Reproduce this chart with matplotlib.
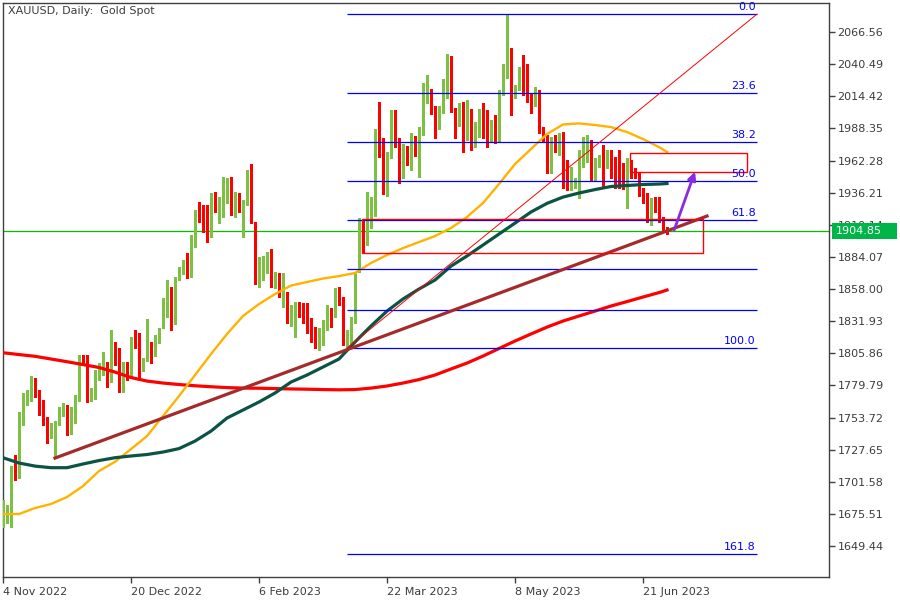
import matplotlib
matplotlib.use("Agg")
import matplotlib.pyplot as plt
from matplotlib.patches import Rectangle
from matplotlib.transforms import blended_transform_factory
import numpy as np

# ---------------- data ----------------
opens = [1670.5,1674.6,1674.6,1711.9,1706.2,1755.2,1765.5,1770.6,1779.3,1773.6,
         1761.4,1750.3,1738.1,1739.5,1749.2,1755.7,1754.9,1741.4,1749.5,1768.5,
         1803.0,1797.9,1767.9,1769.5,1785.8,1789.8,1797.9,1784.1,1811.2,1807.9,
         1776.0,1792.2,1787.4,1818.5,1814.4,1792.2,1799.8,1814.4,1804.4,1814.4,
         1826.6,1836.9,1854.5,1830.1,1866.7,1871.2,1876.6,1875.0,1895.1,1920.7,
         1914.5,1908.0,1904.5,1931.6,1926.1,1930.8,1936.1,1946.4,1928.0,1934.3,
         1922.1,1928.0,1950.5,1912.6,1863.9,1866.7,1872.0,1875.3,1861.2,1864.7,
         1853.1,1855.0,1835.5,1836.1,1842.3,1840.9,1834.2,1825.5,1820.6,1809.9,
         1816.6,1827.4,1837.7,1836.9,1858.5,1846.4,1813.9,1813.9,1830.6,1884.8,
         1912.6,1903.7,1918.8,1918.0,1985.6,1978.9,1938.9,1968.1,1992.9,1978.9,
         1955.9,1973.5,1962.7,1980.3,1972.2,1984.3,2018.9,2019.5,2001.0,1990.3,
         2002.4,2014.0,2039.8,1998.4,1994.3,2004.6,1992.4,2003.2,1980.8,1987.8,
         1996.5,1989.7,1987.0,1991.1,1980.8,2016.0,2041.1,2049.2,2015.4,2020.8,
         2033.0,2028.4,2014.8,2007.3,2016.0,1988.4,1981.6,1957.2,1977.5,1970.8,
         1974.8,1957.2,1939.7,1941.6,1944.2,1958.6,1962.7,1977.5,1947.8,1960.0,
         1968.1,1960.0,1964.9,1961.3,1958.6,1943.8,1943.8,1958.6,1953.2,1950.5,
         1935.6,1930.2,1913.4,1924.8,1923.5,1914.0,1907.5]
highs = [1686.8,1682.7,1714.3,1723.3,1758.4,1773.6,1776.0,1787.4,1785.8,1776.0,
         1767.9,1754.1,1749.2,1750.9,1762.2,1765.5,1763.8,1762.2,1772.0,1804.4,
         1804.4,1804.4,1777.6,1792.2,1797.9,1807.1,1799.0,1824.7,1815.2,1810.1,
         1799.0,1799.0,1819.3,1824.7,1822.3,1802.0,1833.6,1815.2,1820.6,1826.1,
         1850.9,1865.3,1859.8,1867.7,1875.6,1881.5,1887.2,1901.8,1922.1,1928.8,
         1926.1,1926.1,1935.6,1936.9,1932.9,1949.1,1947.8,1949.1,1936.9,1935.6,
         1930.2,1954.5,1959.4,1912.6,1884.2,1884.8,1888.2,1890.2,1872.0,1870.7,
         1870.7,1855.8,1845.0,1847.7,1847.7,1846.4,1846.4,1834.2,1827.4,1826.1,
         1832.8,1845.0,1842.3,1858.5,1859.4,1851.7,1824.7,1835.5,1870.7,1915.3,
         1914.0,1936.9,1932.9,1987.8,2010.0,1980.3,1969.4,2003.2,2003.2,1980.3,
         1975.6,1974.0,1984.3,1982.1,1989.7,2024.9,2031.6,2020.0,2006.5,2006.5,
         2028.1,2048.4,2047.3,2004.6,2008.7,2010.0,2011.4,2004.0,1993.7,2004.0,
         2008.7,2003.2,1995.1,1999.2,2019.5,2040.3,2080.9,2053.3,2023.5,2038.4,
         2047.9,2040.3,2016.8,2022.1,2019.5,1989.7,1982.9,1981.6,1982.9,1984.6,
         1985.6,1962.7,1957.2,1948.1,1970.8,1981.6,1982.9,1978.9,1964.0,1966.7,
         1974.8,1970.8,1970.8,1965.3,1970.8,1960.0,1964.0,1962.7,1956.2,1952.9,
         1939.7,1935.6,1931.6,1932.9,1932.9,1916.6,1908.3]
lows = [1664.8,1668.1,1664.8,1703.0,1704.6,1747.6,1763.8,1767.3,1770.6,1755.7,
        1747.6,1733.2,1737.1,1720.8,1747.6,1754.9,1739.5,1740.3,1749.2,1767.1,
        1797.1,1766.5,1767.1,1768.7,1784.1,1788.2,1778.7,1782.5,1796.3,1774.6,
        1774.6,1784.1,1786.6,1809.9,1784.1,1791.4,1799.6,1797.7,1803.6,1813.9,
        1826.1,1835.5,1824.7,1829.6,1865.3,1870.1,1867.1,1868.0,1892.3,1912.6,
        1904.5,1896.4,1900.4,1920.7,1911.3,1916.6,1927.5,1918.0,1916.6,1920.7,
        1900.4,1926.1,1911.3,1862.0,1859.8,1865.3,1870.7,1859.8,1858.5,1851.7,
        1843.6,1830.1,1828.0,1819.3,1835.5,1830.1,1822.0,1815.2,1809.9,1808.5,
        1812.5,1824.7,1827.4,1835.5,1845.0,1812.5,1809.9,1812.5,1830.1,1872.0,
        1886.9,1893.7,1907.2,1917.5,1965.3,1935.1,1933.7,1964.0,1973.5,1943.8,
        1947.8,1958.6,1954.5,1965.9,1949.1,1982.9,2008.7,1999.7,1980.3,1987.6,
        2001.0,2012.7,2001.9,1980.8,1990.5,1968.9,1978.9,1970.8,1973.5,1981.6,
        1980.8,1973.5,1977.5,1976.2,1977.0,2015.4,2029.4,1999.2,2013.2,2019.5,
        2015.4,2010.0,2000.6,2006.7,1984.3,1977.5,1951.9,1951.9,1969.2,1966.7,
        1939.7,1938.3,1938.3,1939.9,1931.6,1957.2,1961.3,1946.4,1946.4,1957.2,
        1939.7,1955.9,1947.8,1939.7,1939.7,1938.9,1923.5,1948.1,1948.1,1933.4,
        1927.5,1912.6,1909.9,1920.7,1912.6,1905.9,1902.6]
closes = [1682.7,1680.3,1713.5,1707.0,1755.7,1771.1,1773.6,1779.3,1773.8,1761.4,
          1750.3,1738.7,1741.1,1750.3,1755.7,1758.4,1741.1,1759.8,1769.5,1803.6,
          1799.0,1767.9,1772.0,1786.8,1790.9,1797.1,1781.7,1811.2,1807.1,1776.8,
          1793.9,1786.8,1819.3,1813.9,1793.6,1799.0,1814.4,1804.4,1815.2,1824.7,
          1840.1,1854.5,1832.8,1866.9,1872.0,1877.5,1875.6,1897.7,1920.7,1914.0,
          1908.0,1903.7,1931.6,1926.1,1931.6,1936.9,1946.4,1928.8,1928.8,1922.7,
          1928.8,1950.5,1911.8,1865.3,1868.0,1872.6,1876.1,1861.2,1866.1,1853.1,
          1855.8,1836.1,1837.7,1843.1,1840.4,1834.2,1824.7,1822.5,1811.2,1818.0,
          1828.0,1836.9,1835.5,1855.8,1847.7,1813.9,1814.7,1831.4,1868.0,1913.4,
          1903.7,1918.0,1919.9,1987.0,1978.9,1940.5,1968.1,1992.9,1977.5,1955.9,
          1974.0,1964.0,1979.5,1969.4,1984.3,2020.0,2020.0,2000.6,1990.3,2003.2,
          2014.6,2040.3,2004.6,1994.3,2004.6,1994.3,2005.1,1982.4,1988.4,1997.0,
          1987.8,1987.0,1989.7,1980.8,2016.8,2038.9,2050.5,2015.4,2020.8,2034.3,
          2029.0,2014.0,2010.0,2015.4,1988.4,1980.8,1957.2,1977.5,1970.8,1974.8,
          1957.2,1939.7,1946.4,1945.0,1961.3,1966.7,1977.5,1947.8,1962.7,1964.0,
          1940.5,1964.9,1960.0,1957.2,1943.8,1939.7,1958.6,1951.9,1949.1,1935.6,
          1930.2,1913.4,1922.1,1922.1,1913.4,1907.2,1904.85]

# moving averages read at sampled bars (every 4 bars)
ma_bars = [0, 4, 8, 12, 16, 20, 24, 28, 32, 36, 40, 44, 48, 52, 56, 60, 64, 68,
           72, 76, 80, 84, 88, 92, 96, 100, 104, 108, 112, 116, 120, 124, 128,
           132, 136, 140, 144, 148, 152, 156, 160, 164, 166]
ma_red = [1806.3, 1804.8, 1803.4, 1801.2, 1799.0, 1796.7, 1794.3, 1790.6, 1786.2,
          1783.3, 1781.7, 1780.5, 1779.5, 1778.7, 1778.0, 1777.6, 1777.5, 1777.2,
          1776.9, 1776.7, 1776.4, 1776.2, 1776.4, 1777.6, 1779.3, 1781.7, 1784.5,
          1788.2, 1793.1, 1797.9, 1803.6, 1809.7, 1815.8, 1821.5, 1827.1, 1832.0,
          1836.1, 1840.1, 1844.2, 1847.8, 1851.5, 1855.1, 1857.2]
ma_yellow = [1675.4, 1675.4, 1680.3, 1683.5, 1689.2, 1698.1, 1710.3, 1717.8, 1728.1,
             1738.7, 1754.9, 1771.1, 1788.2, 1805.2, 1821.5, 1836.1, 1845.8, 1853.9,
             1860.8, 1863.7, 1866.5, 1868.5, 1871.0, 1879.1, 1885.6, 1891.2, 1896.1,
             1901.0, 1907.5, 1916.4, 1927.8, 1943.2, 1959.4, 1971.6, 1983.8, 1991.5,
             1992.4, 1991.1, 1989.4, 1985.4, 1979.7, 1973.2, 1969.2]
ma_green = [1721.1, 1716.8, 1714.3, 1713.0, 1713.0, 1716.0, 1718.8, 1721.1, 1722.5,
            1723.7, 1725.7, 1728.5, 1734.6, 1742.7, 1753.3, 1759.8, 1766.3, 1773.6,
            1782.5, 1788.2, 1794.7, 1801.2, 1815.0, 1828.0, 1840.1, 1849.9, 1858.0,
            1865.3, 1876.6, 1884.8, 1893.7, 1902.6, 1911.5, 1920.5, 1927.5, 1932.6,
            1935.9, 1938.7, 1941.2, 1942.0, 1942.8, 1943.2, 1943.6]

# fibonacci retracement
fib_bars = [86, 188.5]
fib_low = 1810.1
fib_high = 2081.1
fib_levels = [0.0, 23.6, 38.2, 50.0, 61.8, 76.4, 88.6, 100.0, 161.8]
fib_texts = ["0.0", "23.6", "38.2", "50.0", "61.8", "", "", "100.0", "161.8"]

# trend line
trend_bars = [13, 176]
trend_prices = [1720.8, 1917.2]

# rectangles: (bar_start, bar_end, price_low, price_high)
rect_boxes = [(156.75, 185.9, 1953.2, 1968.1), (89.8, 175.0, 1886.9, 1914.5)]

# arrow
arrow_bars = [167.8, 173.0]
arrow_prices = [1905.9, 1953.2]

current_price = 1904.85

price_ticks = [1649.44, 1675.51, 1701.58, 1727.65, 1753.72, 1779.79, 1805.86,
               1831.93, 1858.00, 1884.07, 1910.14, 1936.21, 1962.28, 1988.35,
               2014.42, 2040.49, 2066.56]
date_tick_bars = [0, 32, 64, 96, 128, 160]
date_labels = ["4 Nov 2022", "20 Dec 2022", "6 Feb 2023", "22 Mar 2023",
               "8 May 2023", "21 Jun 2023"]

# ---------------- plot ----------------
GREEN = "#7CC142"
RED = "#FF0000"
TXT = "#3C3C3C"

fig = plt.figure(figsize=(9, 6), dpi=100)
ax = fig.add_axes([2.5 / 900, 1 - 577 / 600, (829 - 2.5) / 900, (577 - 3) / 600])
ax.set_facecolor("white")

o = np.array(opens); h = np.array(highs); l = np.array(lows); c = np.array(closes)
x = np.arange(len(c))
cols = np.where(c >= o, GREEN, RED)

ax.axhline(current_price, color="#00C000", lw=0.9, zorder=1)

ax.vlines(x, l, h, colors=cols, linewidth=0.9, zorder=3, antialiased=False)
body_bot = np.minimum(o, c)
body_h = np.maximum(np.abs(c - o), 0.9)
ax.bar(x, body_h, bottom=body_bot, width=0.75, color=cols, linewidth=0,
       zorder=3, antialiased=False)

ax.plot(ma_bars, ma_red, color="#FF0000", lw=2.3, zorder=4, solid_joinstyle="round")
ax.plot(ma_bars, ma_yellow, color="#FFB300", lw=1.7, zorder=4, solid_joinstyle="round")
ax.plot(ma_bars, ma_green, color="#0B5345", lw=2.3, zorder=4, solid_joinstyle="round")

# fibonacci
rng = fib_high - fib_low
for lvl, t in zip(fib_levels, fib_texts):
    p = fib_high - lvl / 100.0 * rng
    ax.hlines(p, fib_bars[0], fib_bars[1], colors="#0000FF", lw=0.9, zorder=5)
    if t:
        ax.annotate(t, (fib_bars[1], p), xytext=(-1, 1.5), textcoords="offset points",
                    ha="right", va="bottom", color="#0000FF", fontsize=8, zorder=6)
ax.plot(fib_bars, [fib_low, fib_high], color="#FF0000", lw=0.7, zorder=5)

# trend line
ax.plot(trend_bars, trend_prices, color="#A52A2A", lw=2.3, zorder=5)

# rectangles
for b0, b1, p0, p1 in rect_boxes:
    ax.add_patch(Rectangle((b0, p0), b1 - b0, p1 - p0, fill=False,
                           edgecolor="#FF0000", lw=1.0, zorder=5))

# arrow
ax.annotate("", xy=(arrow_bars[1], arrow_prices[1]),
            xytext=(arrow_bars[0], arrow_prices[0]),
            arrowprops=dict(arrowstyle="-|>", color="#8A2BE2", lw=2.0,
                            mutation_scale=12, shrinkA=0, shrinkB=0), zorder=6)

ax.set_xlim(-0.125, 206.5)
ax.set_ylim(1624.3, 2090.1)

# axes styling
for s in ax.spines.values():
    s.set_color("#404040")
    s.set_linewidth(1.0)
ax.yaxis.tick_right()
ax.set_yticks(price_ticks)
ax.set_yticklabels([f"{v:.2f}" for v in price_ticks])
ax.set_xticks(date_tick_bars)
ax.set_xticklabels(date_labels)
for lbl in ax.get_xticklabels():
    lbl.set_ha("left")
ax.tick_params(axis="both", direction="out", length=4, width=1, color="#404040",
               labelcolor=TXT, labelsize=8, pad=2)
ax.tick_params(axis="x", pad=3)

# current price label (covers the 1910.14 tick label as in the original)
bt = blended_transform_factory(ax.transAxes, ax.transData)
ax.add_patch(Rectangle((1.0036, current_price - 6.5), 0.079, 13.0, transform=bt,
                       facecolor="#00B548", edgecolor="none", clip_on=False, zorder=10))
ax.text(1.0085, current_price, f"{current_price:.2f}", transform=bt, ha="left",
        va="center", color="white", fontsize=8, zorder=11, clip_on=False)

# title
ax.text(0.0067, 0.994, "XAUUSD, Daily:  Gold Spot", transform=ax.transAxes,
        ha="left", va="top", color=TXT, fontsize=8, zorder=12)

fig.savefig("out.png", dpi=100)
